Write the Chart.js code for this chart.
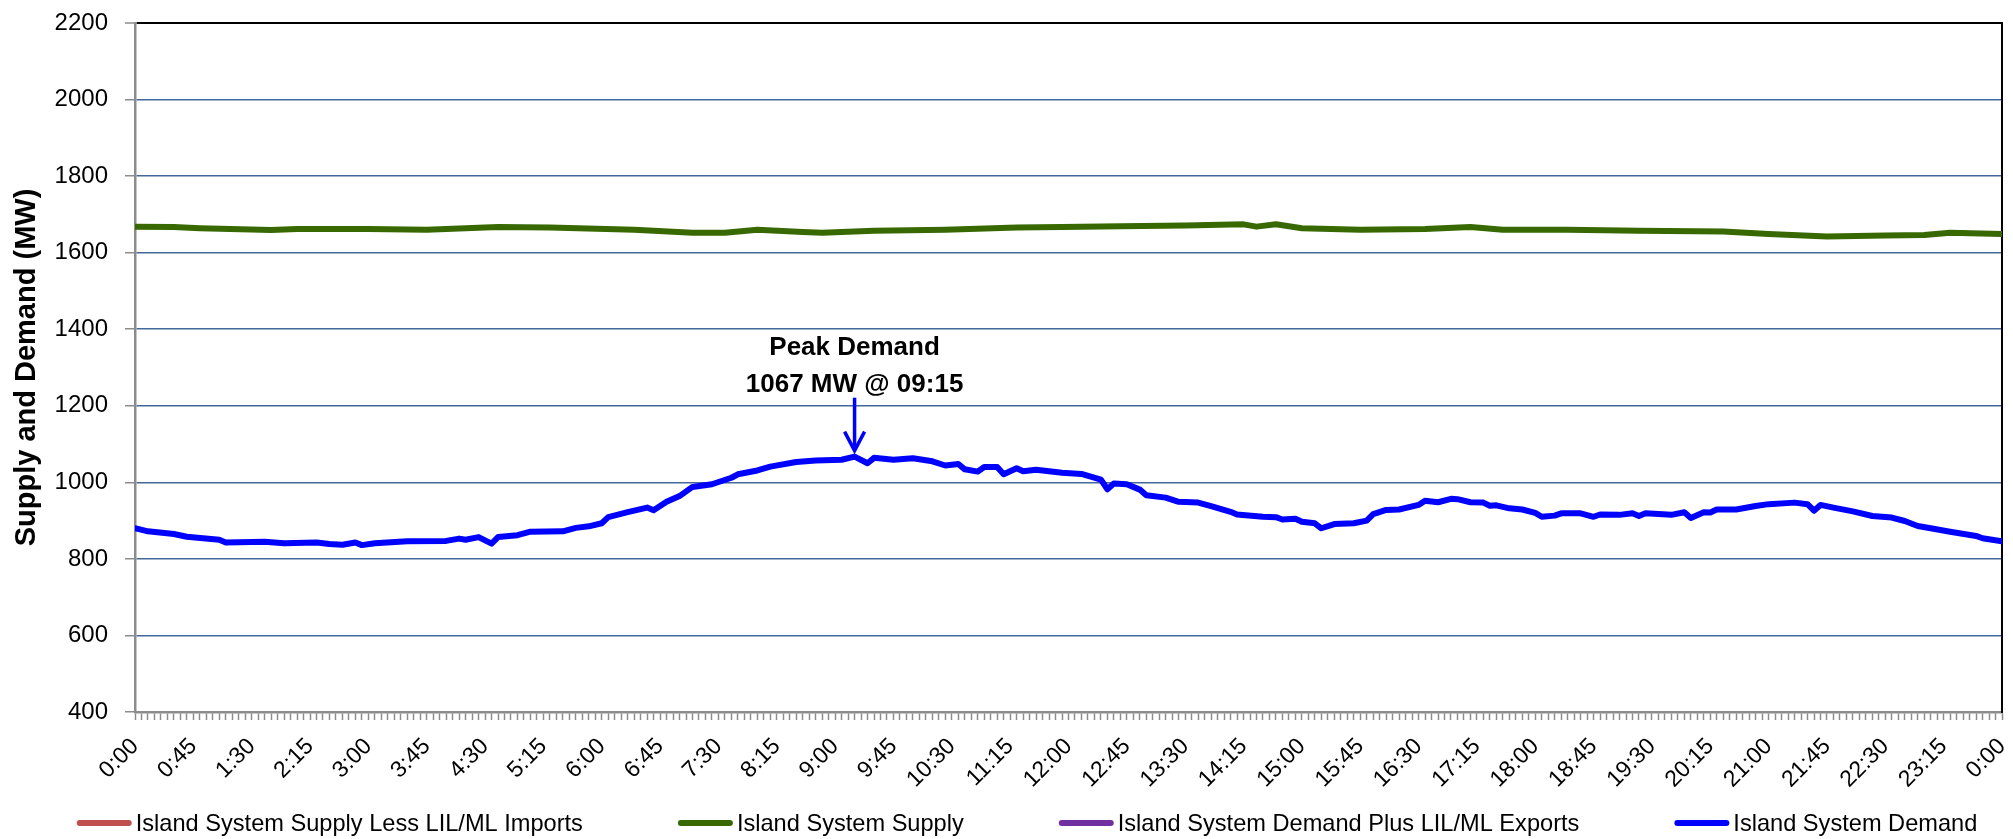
<!DOCTYPE html>
<html>
<head>
<meta charset="utf-8">
<script src="https://cdn.jsdelivr.net/npm/chart.js@4.4.1/dist/chart.umd.min.js"></script>
<style>
  html, body { margin: 0; padding: 0; background: #fff; }
  #wrap { width: 2013px; height: 839px; }
</style>
</head>
<body>
<div id="wrap"><canvas id="chart" width="2013" height="839"></canvas></div>
<script>
// ---- data ----
const seriesNames = [
  "Island System Supply Less LIL/ML Imports",
  "Island System Supply",
  "Island System Demand Plus LIL/ML Exports",
  "Island System Demand",
];
const seriesColors = ["#c0504d", "#376900", "#7030a0", "#0000ff"];

const supplyTimes = ["0:00","0:30","0:50","1:45","2:05","3:00","3:45","4:40","5:20","6:25","7:10","7:35","8:00","8:35","8:50","9:30","10:25","11:20","11:55","12:40","13:30","14:15","14:25","14:40","15:00","15:45","16:35","17:10","17:35","18:25","19:20","20:25","21:00","21:45","22:30","23:00","23:20","24:00"];
const supplyMW = [1668,1667,1664,1659,1662,1662,1660,1667,1666,1660,1652,1652,1660,1654,1652,1657,1660,1666,1667,1669,1671,1674,1668,1674,1664,1660,1662,1667,1660,1660,1657,1655,1649,1642,1645,1646,1652,1649];

const demandTimes = ["0:00","0:10","0:30","0:40","1:05","1:10","1:40","1:55","2:20","2:30","2:40","2:50","2:55","3:05","3:30","4:00","4:10","4:15","4:25","4:35","4:40","4:55","5:05","5:30","5:40","5:50","6:00","6:05","6:20","6:35","6:40","6:50","7:00","7:10","7:25","7:40","7:45","8:00","8:10","8:30","8:45","9:05","9:15","9:25","9:30","9:45","10:00","10:15","10:25","10:35","10:40","10:50","10:55","11:05","11:10","11:20","11:25","11:35","11:55","12:10","12:25","12:30","12:35","12:45","12:55","13:00","13:15","13:25","13:40","13:50","14:05","14:10","14:30","14:40","14:45","14:55","15:00","15:10","15:15","15:25","15:40","15:50","15:55","16:05","16:15","16:30","16:35","16:45","16:55","17:00","17:10","17:20","17:25","17:30","17:40","17:50","18:00","18:05","18:15","18:20","18:35","18:45","18:50","19:05","19:15","19:20","19:25","19:45","19:55","20:00","20:10","20:15","20:20","20:35","20:50","21:00","21:20","21:30","21:35","21:40","21:50","22:05","22:20","22:35","22:45","22:55","23:05","23:20","23:40","23:45","24:00"];
const demandMW = [880,872,865,858,850,843,845,841,843,839,837,843,836,841,846,847,853,850,857,840,857,862,871,872,881,885,893,909,922,934,927,949,964,988,995,1012,1021,1031,1041,1053,1057,1059,1067,1050,1064,1059,1063,1055,1044,1048,1034,1028,1040,1040,1021,1037,1029,1033,1025,1022,1007,982,997,995,981,966,960,949,947,938,923,916,910,909,903,905,897,893,880,891,893,900,917,928,929,941,952,948,957,956,948,947,939,940,932,929,920,910,913,919,919,910,916,915,919,912,919,915,922,907,922,921,929,929,938,943,947,943,926,941,934,924,912,908,899,886,880,871,860,854,846];

const yMin = 400, yMax = 2200, yStep = 200;
const xMin = 0, xMax = 1440, xLabelEvery = 45, xTickEvery = 5;

const peakTime = "9:15";
const peakMW = 1067;
const peakLines = ["Peak Demand", "1067 MW @ 09:15"];

// ---- helpers ----
const toMin = (s) => { const [h, m] = s.split(":"); return Number(h) * 60 + Number(m); };
const fmtTime = (v) => `${Math.floor(v / 60) % 24}:${String(v % 60).padStart(2, "0")}`;
const pts = (times, vals) => times.map((t, i) => ({ x: toMin(t), y: vals[i] }));

const FONT = '"Liberation Sans", Arial, sans-serif';
const GRID = "#45689a";
const AXIS = "#8c8c8c";

const seriesData = [[], pts(supplyTimes, supplyMW), [], pts(demandTimes, demandMW)];

// peak annotation: text + arrow pointing down at the peak
const peakPlugin = {
  id: "peak",
  afterDatasetsDraw(chart) {
    const { ctx, scales: { x, y } } = chart;
    const px = x.getPixelForValue(toMin(peakTime));
    const py = y.getPixelForValue(peakMW);
    ctx.save();
    ctx.fillStyle = "#000";
    ctx.font = `bold 26px ${FONT}`;
    ctx.textAlign = "center";
    ctx.textBaseline = "middle";
    ctx.fillText(peakLines[0], px, py - 109);
    ctx.fillText(peakLines[1], px, py - 72);
    ctx.strokeStyle = "#0000ff";
    ctx.lineWidth = 3.5;
    ctx.beginPath();
    ctx.moveTo(px, py - 59);
    ctx.lineTo(px, py - 10);
    ctx.stroke();
    ctx.lineJoin = "miter";
    ctx.beginPath();
    ctx.moveTo(px - 10, py - 25);
    ctx.lineTo(px, py - 6);
    ctx.lineTo(px + 10, py - 25);
    ctx.stroke();
    ctx.restore();
  },
};

// legend row under the axis, Excel style
const legendPlugin = {
  id: "bottomLegend",
  afterDraw(chart) {
    const ctx = chart.ctx;
    ctx.save();
    ctx.font = `23.6px ${FONT}`;
    ctx.textBaseline = "middle";
    const lineW = 55, gapAfterLine = 4, gap = 95, y = 823, centre = 1027;
    const items = chart.data.datasets.map((d) => ({
      text: d.label, color: d.borderColor,
      w: lineW + gapAfterLine + ctx.measureText(d.label).width,
    }));
    const total = items.reduce((a, it) => a + it.w, 0) + gap * (items.length - 1);
    let x = centre - total / 2;
    items.forEach((it) => {
      ctx.strokeStyle = it.color;
      ctx.lineWidth = 6;
      ctx.lineCap = "round";
      ctx.beginPath();
      ctx.moveTo(x + 3, y);
      ctx.lineTo(x + lineW - 3, y);
      ctx.stroke();
      ctx.fillStyle = "#000";
      ctx.fillText(it.text, x + lineW + gapAfterLine, y + 1);
      x += it.w + gap;
    });
    ctx.restore();
  },
};

const noVPad = (s) => { s.paddingTop = 0; s.paddingBottom = 0; };

new Chart(document.getElementById("chart").getContext("2d"), {
  type: "line",
  data: {
    datasets: seriesNames.map((name, i) => ({
      label: name,
      data: seriesData[i],
      borderColor: seriesColors[i],
      backgroundColor: seriesColors[i],
      borderWidth: 6,
      pointRadius: 0,
      tension: 0,
      borderJoinStyle: "round",
      borderCapStyle: "round",
    })),
  },
  options: {
    responsive: false,
    animation: false,
    layout: { padding: { left: 0, right: 11, top: 23, bottom: 46 } },
    plugins: { legend: { display: false }, tooltip: { enabled: false } },
    scales: {
      x: {
        type: "linear",
        min: xMin, max: xMax,
        grid: { drawOnChartArea: false, tickLength: 8, tickColor: AXIS, tickWidth: 1.5 },
        border: { color: AXIS, width: 2.5 },
        ticks: {
          stepSize: xTickEvery,
          autoSkip: false,
          minRotation: 45, maxRotation: 45,
          padding: 13,
          color: "#000",
          font: { family: FONT, size: 23 },
          callback: (v) => (v % xLabelEvery === 0 ? fmtTime(v) : ""),
        },
        afterFit: (s) => { s.height = 81; s.paddingLeft = 0; s.paddingRight = 0; },
      },
      y: {
        min: yMin, max: yMax,
        grid: {
          color: (c) => (c.tick && c.tick.value === yMax ? "#000" : c.tick && c.tick.value === yMin ? AXIS : GRID),
          lineWidth: (c) => (c.tick && c.tick.value === yMax ? 2 : 1.5),
          tickLength: 10, tickColor: AXIS, tickWidth: 1.5,
        },
        border: { color: AXIS, width: 2.5 },
        ticks: {
          stepSize: yStep, padding: 17, color: "#000",
          font: { family: FONT, size: 24 },
          callback: (v) => String(v),
        },
        title: {
          display: true,
          text: "Supply and Demand (MW)",
          color: "#000",
          font: { family: FONT, size: 29, weight: "bold" },
          padding: { top: 10, bottom: 0 },
        },
        afterFit: (s) => { s.width = 135; noVPad(s); },
      },
      y2: {
        position: "right",
        min: yMin, max: yMax,
        grid: { drawOnChartArea: false, drawTicks: false },
        ticks: { display: false },
        border: { color: "#000", width: 2 },
        afterFit: noVPad,
      },
    },
  },
  plugins: [peakPlugin, legendPlugin],
});
</script>
</body>
</html>
